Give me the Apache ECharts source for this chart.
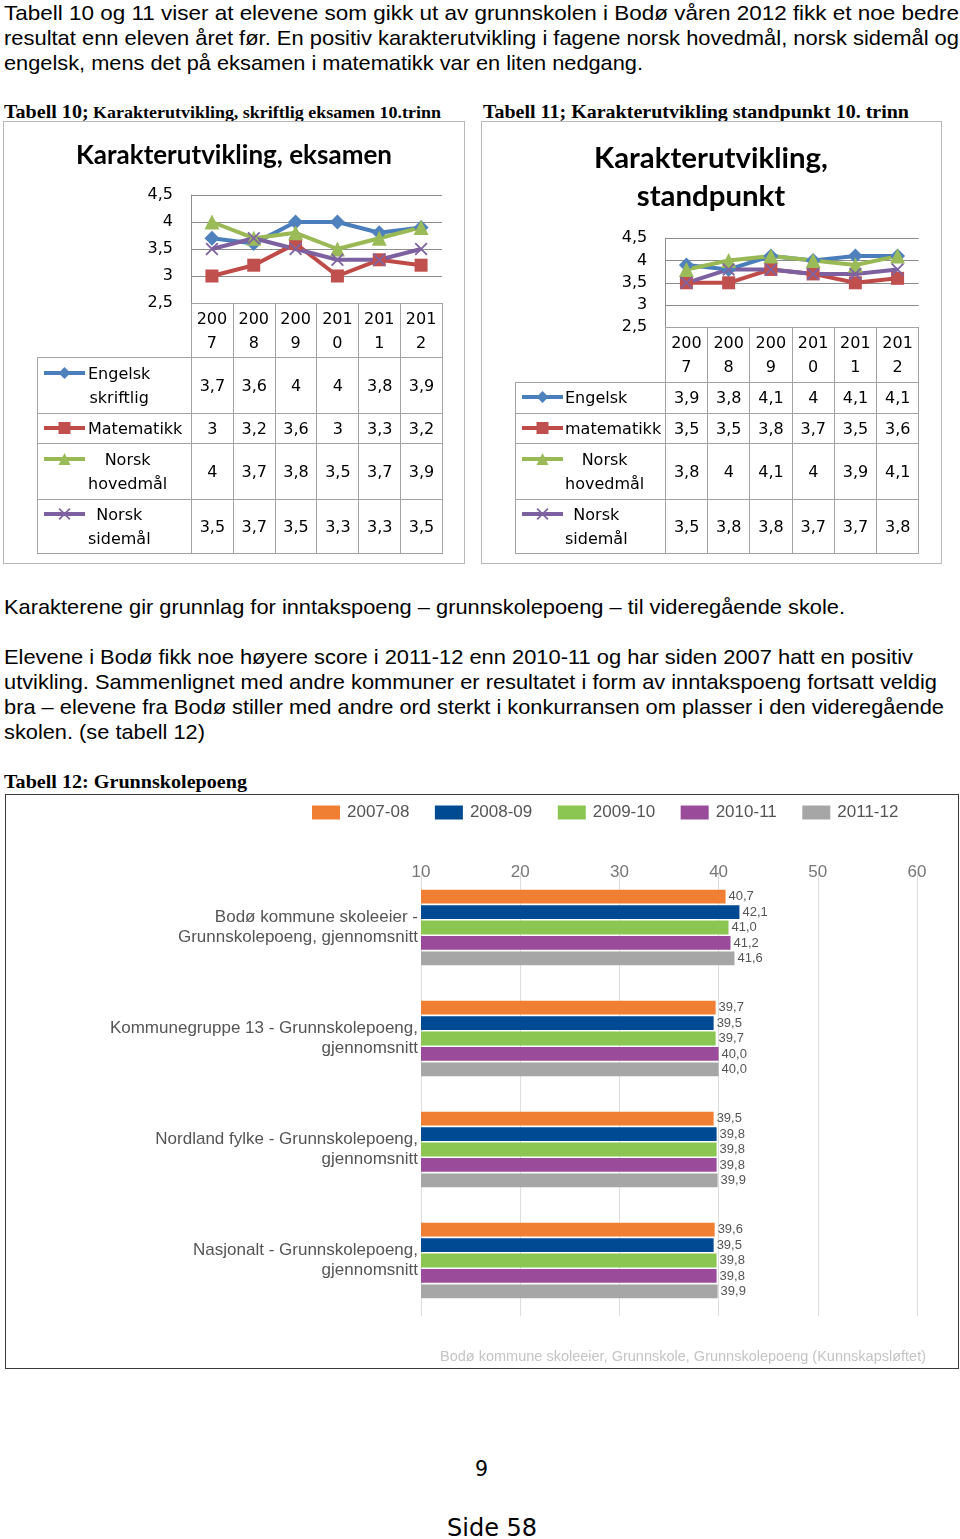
<!DOCTYPE html>
<html lang="no"><head><meta charset="utf-8"><title>Karakterutvikling og grunnskolepoeng</title>
<script src="https://cdn.jsdelivr.net/npm/echarts@6.0.0/dist/echarts.min.js"></script>
<style>
html,body{margin:0;padding:0;background:#fff}
body{position:relative;width:960px;height:1539px;overflow:hidden;font-family:"Liberation Sans",Arial,sans-serif;color:#000}
.t{position:absolute;white-space:nowrap;transform-origin:0 50%;font-size:21px;line-height:25px;height:25px}
.cap{font-family:"Liberation Serif","Times New Roman",serif;font-weight:bold;font-size:17px}
.box{position:absolute;box-sizing:border-box;z-index:0}
.ch{position:absolute;z-index:1}
.dt{position:absolute;border-collapse:collapse;table-layout:fixed;font-family:"DejaVu Sans",sans-serif;font-size:16px;z-index:3}
.dt td{border:1px solid #a3a3a3;padding:0;text-align:center;vertical-align:middle;line-height:24px;white-space:nowrap;overflow:visible}
.dt td.blank{border-top-style:hidden;border-left-style:hidden}
.dt td.lab{text-align:left}
.dt td.lab span{display:inline-block;text-align:center}
.pg{position:absolute;font-family:"DejaVu Sans",sans-serif;white-space:nowrap}
</style></head><body>

<div class="t" style="left:4px;top:0px" data-w="955">Tabell 10 og 11 viser at elevene som gikk ut av grunnskolen i Bodø våren 2012 fikk et noe bedre</div>
<div class="t" style="left:4px;top:25px" data-w="955">resultat enn eleven året før. En positiv karakterutvikling i fagene norsk hovedmål, norsk sidemål og</div>
<div class="t" style="left:4px;top:50px" data-w="639">engelsk, mens det på eksamen i matematikk var en liten nedgang.</div>

<div class="t cap" style="left:4px;top:99px" data-w="437"><span style="font-size:19px">Tabell 10;</span> Karakterutvikling, skriftlig eksamen 10.trinn</div>
<div class="t cap" style="left:483px;top:99px;font-size:19px" data-w="426">Tabell 11; Karakterutvikling standpunkt 10. trinn</div>

<div class="box" style="left:3px;top:121px;width:462px;height:443px;border:1.5px solid #b8b8b8"></div>
<div class="box" style="left:481px;top:121px;width:461px;height:443px;border:1.5px solid #b8b8b8"></div>
<div id="c1" class="ch" style="left:4px;top:122px;width:460px;height:441px"></div>
<div id="c2" class="ch" style="left:481px;top:122px;width:460px;height:441px"></div>

<div class="t" style="left:4px;top:594px" data-w="841">Karakterene gir grunnlag for inntakspoeng – grunnskolepoeng – til videregående skole.</div>
<div class="t" style="left:4px;top:644px" data-w="909">Elevene i Bodø fikk noe høyere score i 2011-12 enn 2010-11 og har siden 2007 hatt en positiv</div>
<div class="t" style="left:4px;top:669px" data-w="933">utvikling. Sammenlignet med andre kommuner er resultatet i form av inntakspoeng fortsatt veldig</div>
<div class="t" style="left:4px;top:694px" data-w="940">bra – elevene fra Bodø stiller med andre ord sterkt i konkurransen om plasser i den videregående</div>
<div class="t" style="left:4px;top:719px" data-w="201">skolen. (se tabell 12)</div>

<div class="t cap" style="left:4px;top:769px;font-size:19px" data-w="243">Tabell 12: Grunnskolepoeng</div>

<div class="box" style="left:5px;top:794px;width:954px;height:575px;border:1.5px solid #3a3a3a"></div>
<div id="c3" class="ch" style="left:6px;top:795px;width:952px;height:573px"></div>

<div class="pg" style="left:475px;top:1457px;font-size:20.5px;line-height:24px">9</div>
<div class="pg" style="left:447px;top:1513px;font-size:24px;line-height:30px">Side 58</div>

<script>
// ---------- data ----------
const years = ['2007', '2008', '2009', '2010', '2011', '2012'];
const yTicks = [2.5, 3, 3.5, 4, 4.5];

const eksamenTitle = 'Karakterutvikling, eksamen';
const eksamenNames = ['Engelsk skriftlig', 'Matematikk', 'Norsk hovedmål', 'Norsk sidemål'];
const eksamenEngelsk = [3.7, 3.6, 4, 4, 3.8, 3.9];
const eksamenMatematikk = [3, 3.2, 3.6, 3, 3.3, 3.2];
const eksamenNorskHoved = [4, 3.7, 3.8, 3.5, 3.7, 3.9];
const eksamenNorskSide = [3.5, 3.7, 3.5, 3.3, 3.3, 3.5];

const standTitle = 'Karakterutvikling,\nstandpunkt';
const standNames = ['Engelsk', 'matematikk', 'Norsk hovedmål', 'Norsk sidemål'];
const standEngelsk = [3.9, 3.8, 4.1, 4, 4.1, 4.1];
const standMatematikk = [3.5, 3.5, 3.8, 3.7, 3.5, 3.6];
const standNorskHoved = [3.8, 4, 4.1, 4, 3.9, 4.1];
const standNorskSide = [3.5, 3.8, 3.8, 3.7, 3.7, 3.8];

const barCategories = [
  'Bodø kommune skoleeier - Grunnskolepoeng, gjennomsnitt',
  'Kommunegruppe 13 - Grunnskolepoeng, gjennomsnitt',
  'Nordland fylke - Grunnskolepoeng, gjennomsnitt',
  'Nasjonalt - Grunnskolepoeng, gjennomsnitt'
];
const barPeriods = ['2007-08', '2008-09', '2009-10', '2010-11', '2011-12'];
const bar2007_08 = [40.7, 39.7, 39.5, 39.6];
const bar2008_09 = [42.1, 39.5, 39.8, 39.5];
const bar2009_10 = [41.0, 39.7, 39.8, 39.8];
const bar2010_11 = [41.2, 40.0, 39.8, 39.8];
const bar2011_12 = [41.6, 40.0, 39.9, 39.9];
const barTicks = [10, 20, 30, 40, 50, 60];
const barSource = 'Bodø kommune skoleeier, Grunnskole, Grunnskolepoeng (Kunnskapsløftet)';

// ---------- text fitting ----------
document.querySelectorAll('[data-w]').forEach(el => {
  const w = el.getBoundingClientRect().width;
  el.style.transform = 'scaleX(' + (+el.dataset.w / w) + ')';
});

const comma = v => String(v).replace('.', ',');

// ---------- line charts ----------
const X_SYMBOL = 'path://M1,0L5,4L9,0L10,1L6,5L10,9L9,10L5,6L1,10L0,9L4,5L0,1Z';
const lineStyles = [
  { line: '#4A7EBB', fill: '#4F81BD', symbol: 'diamond', size: 15 },
  { line: '#BE4B48', fill: '#C0504D', symbol: 'rect', size: 13 },
  { line: '#98B954', fill: '#9BBB59', symbol: 'triangle', size: 15 },
  { line: '#7D60A0', fill: '#8064A2', symbol: X_SYMBOL, size: 13 }
];

function lineChart(elId, cfg) {
  const chart = echarts.init(document.getElementById(elId));
  chart.setOption({
    animation: false,
    title: {
      text: cfg.title, left: 'center', top: cfg.titleTop,
      textStyle: { fontFamily: 'Lato', fontWeight: 'bold', fontSize: cfg.titleSize, lineHeight: cfg.titleLH, color: '#000' }
    },
    legend: cfg.names.map((n, i) => ({
      data: [n], left: cfg.legLeft, top: cfg.legTops[i], padding: 0,
      itemWidth: 41, itemHeight: 15, selectedMode: false,
      lineStyle: { width: 4 },
      formatter: () => '', textStyle: { fontSize: 10 }
    })),
    grid: { left: cfg.grid[0], top: cfg.grid[1], width: cfg.grid[2], height: cfg.grid[3], outerBoundsMode: 'none' },
    xAxis: {
      type: 'category', data: years, boundaryGap: true,
      axisLine: { show: false }, axisTick: { show: false }, splitLine: { show: false },
      axisLabel: {
        interval: 0, margin: 5, fontFamily: 'DejaVu Sans', fontSize: 16, lineHeight: 24, color: '#000',
        formatter: v => v.slice(0, 3) + '\n' + v.slice(3)
      }
    },
    yAxis: {
      type: 'value', min: yTicks[0], max: yTicks[yTicks.length - 1], interval: 0.5,
      axisLine: { show: true, lineStyle: { color: '#8c8c8c', width: 1 } },
      axisTick: { show: false },
      splitLine: { show: true, lineStyle: { color: '#8c8c8c', width: 1 } },
      axisLabel: { margin: 18, showMinLabel: true, showMaxLabel: true, hideOverlap: false,
        fontFamily: 'DejaVu Sans', fontSize: 16, color: '#000', formatter: comma }
    },
    series: cfg.names.map((n, i) => ({
      type: 'line', name: n, data: cfg.data[i],
      symbol: lineStyles[i].symbol, symbolSize: lineStyles[i].size, showAllSymbol: true,
      lineStyle: { width: 4, color: lineStyles[i].line },
      itemStyle: { color: lineStyles[i].fill },
      emphasis: { disabled: true }
    }))
  });
}

lineChart('c1', {
  title: eksamenTitle, titleTop: 13, titleSize: 26, titleLH: 32,
  names: eksamenNames,
  data: [eksamenEngelsk, eksamenMatematikk, eksamenNorskHoved, eksamenNorskSide],
  grid: [187, 73, 251, 108],
  legLeft: 38, legTops: [243.5, 298.5, 329.5, 384.5]
});
lineChart('c2', {
  title: standTitle, titleTop: 13, titleSize: 29.4, titleLH: 38,
  names: standNames,
  data: [standEngelsk, standMatematikk, standNorskHoved, standNorskSide],
  grid: [184.3, 116.3, 253.4, 89],
  legLeft: 39, legTops: [267.5, 298.5, 329.5, 384.5]
});

// ---------- data tables under the line charts ----------
function makeTable(cfg) {
  const t = document.createElement('table');
  t.className = 'dt';
  t.style.left = cfg.x + 'px';
  t.style.top = cfg.y + 'px';
  t.style.width = (cfg.labelW + cfg.colW * years.length) + 'px';
  let html = '<colgroup><col style="width:' + cfg.labelW + 'px">' +
    years.map(() => '<col style="width:' + cfg.colW + 'px">').join('') + '</colgroup>';
  html += '<tr style="height:' + cfg.rowH[0] + 'px"><td class="blank"></td>' + years.map(() => '<td></td>').join('') + '</tr>';
  cfg.names.forEach((n, i) => {
    html += '<tr style="height:' + cfg.rowH[i + 1] + 'px"><td class="lab" style="padding-left:' + cfg.pad + 'px"><span>' +
      n.replace(' ', '<br>') + '</span></td>' +
      cfg.data[i].map(v => '<td>' + comma(v) + '</td>').join('') + '</tr>';
  });
  t.innerHTML = html;
  document.body.appendChild(t);
}
makeTable({ x: 37, y: 303, labelW: 154, colW: 251 / 6, rowH: [54, 56, 30, 56, 54], pad: 50,
  names: eksamenNames, data: [eksamenEngelsk, eksamenMatematikk, eksamenNorskHoved, eksamenNorskSide] });
makeTable({ x: 515, y: 327, labelW: 150, colW: 253.4 / 6, rowH: [55, 31, 30, 56, 54], pad: 49,
  names: standNames, data: [standEngelsk, standMatematikk, standNorskHoved, standNorskSide] });

// ---------- bar chart ----------
const barColors = ['#F07F33', '#004A93', '#8BC653', '#9A4C9A', '#A6A6A6'];
const barData = [bar2007_08, bar2008_09, bar2009_10, bar2010_11, bar2011_12];
function wrapCat(name) {
  const i = name.lastIndexOf(', ');
  if (i >= 0 && i + 1 <= 36) return name.slice(0, i + 1) + '\n' + name.slice(i + 2);
  const j = name.indexOf(' - ');
  return name.slice(0, j + 2) + '\n' + name.slice(j + 3);
}
const c3 = echarts.init(document.getElementById('c3'));
c3.setOption({
  animation: false,
  legend: {
    data: barPeriods, left: 306, top: 9, padding: 0, icon: 'rect',
    itemWidth: 28, itemHeight: 14, itemGap: 25.5, selectedMode: false,
    textStyle: { fontFamily: 'Liberation Sans', fontSize: 17, color: '#555', padding: [0, 0, 0, 2] }
  },
  grid: { left: 415, right: 41, top: 77, height: 444, outerBoundsMode: 'none' },
  xAxis: {
    type: 'value', position: 'top', min: barTicks[0], max: barTicks[barTicks.length - 1], interval: 10,
    axisLine: { show: false }, axisTick: { show: false },
    splitLine: { show: true, lineStyle: { color: '#dedede', width: 1 } },
    axisLabel: { margin: -9, fontFamily: 'Liberation Sans', fontSize: 17, color: '#777' }
  },
  yAxis: {
    type: 'category', inverse: true, data: barCategories,
    axisLine: { show: false }, axisTick: { show: false },
    axisLabel: { margin: 3, fontFamily: 'Liberation Sans', fontSize: 17, lineHeight: 20, color: '#555', formatter: wrapCat }
  },
  series: barPeriods.map((p, i) => ({
    type: 'bar', name: p, data: barData[i], clip: true,
    barCategoryGap: '32%', barGap: '12%',
    itemStyle: { color: barColors[i] },
    label: {
      show: true, position: 'right', distance: 3, fontFamily: 'Liberation Sans', fontSize: 13, color: '#555',
      formatter: d => d.value.toFixed(1).replace('.', ',')
    },
    emphasis: { disabled: true }
  })),
  graphic: [{
    type: 'text', right: 32, top: 554,
    style: { text: barSource, fill: '#c4c4c4', font: '14.5px "Liberation Sans"' }
  }]
});
</script>
</body></html>
